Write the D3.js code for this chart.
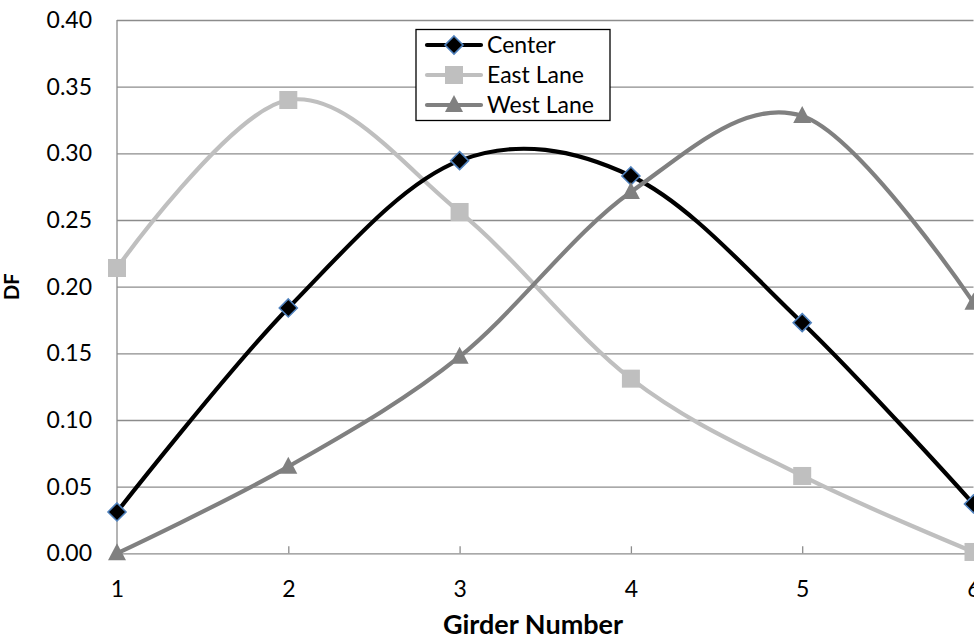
<!DOCTYPE html>
<html>
<head>
<meta charset="utf-8">
<script src="https://cdn.jsdelivr.net/npm/d3@7"></script>
<style>
  html, body { margin: 0; padding: 0; background: #fff; }
  svg { display: block; font-family: Lato, "Open Sans", sans-serif; }
</style>
</head>
<body>
<svg id="chart" width="974" height="639"></svg>
<script>
// Distribution factor per girder for three load positions
const girders = [1, 2, 3, 4, 5, 6];
const center = [0.031, 0.184, 0.2945, 0.283, 0.173, 0.037];
const eastLane = [0.214, 0.340, 0.256, 0.131, 0.058, 0.001];
const westLane = [0.000, 0.065, 0.1475, 0.271, 0.328, 0.188];
const yTicks = [0, 0.05, 0.10, 0.15, 0.20, 0.25, 0.30, 0.35, 0.40];

const series = [
  { name: "Center", values: center, color: "#000000", marker: "diamond" },
  { name: "East Lane", values: eastLane, color: "#bfbfbf", marker: "square" },
  { name: "West Lane", values: westLane, color: "#808080", marker: "triangle" }
];

const svg = d3.select("#chart");
const plot = { left: 117, right: 973.5, top: 20, bottom: 553.3 };

const x = d3.scaleLinear().domain([1, 6]).range([plot.left, plot.right]);
const y = d3.scaleLinear().domain([0, 0.4]).range([plot.bottom, plot.top]);

const gridColor = "#8c8c8c";
const labelSize = 23;

// horizontal gridlines + y labels
const yAxis = d3.axisLeft(y).tickValues(yTicks)
  .tickSize(-(plot.right - plot.left)).tickPadding(25)
  .tickFormat(d3.format(".2f"));
const gy = svg.append("g").attr("transform", `translate(${plot.left},0)`).call(yAxis);
gy.select(".domain").remove();
gy.selectAll(".tick line").attr("stroke", gridColor).attr("stroke-width", 1.3);
gy.selectAll(".tick text").attr("font-size", labelSize).attr("fill", "#000")
  .attr("font-family", "Lato, sans-serif");

// left axis line
svg.append("line")
  .attr("x1", plot.left).attr("x2", plot.left)
  .attr("y1", plot.top).attr("y2", plot.bottom)
  .attr("stroke", gridColor).attr("stroke-width", 1.3);

// x axis with short inward ticks
const xAxis = d3.axisBottom(x).tickValues(girders).tickSize(-7).tickPadding(27)
  .tickFormat(d3.format("d"));
const gx = svg.append("g").attr("transform", `translate(0,${plot.bottom})`).call(xAxis);
gx.select(".domain").remove();
gx.selectAll(".tick line").attr("stroke", gridColor).attr("stroke-width", 1.3);
gx.selectAll(".tick text").attr("font-size", labelSize).attr("fill", "#000")
  .attr("font-family", "Lato, sans-serif");

// axis titles
svg.append("text")
  .attr("x", 533).attr("y", 634)
  .attr("text-anchor", "middle").attr("font-weight", "bold")
  .attr("font-size", 27).text("Girder Number");
svg.append("text")
  .attr("transform", `translate(19,${(plot.top + plot.bottom) / 2}) rotate(-90)`)
  .attr("text-anchor", "middle").attr("font-weight", "bold")
  .attr("font-size", 20).text("DF");

// marker shapes
function drawMarker(g, type, cx, cy, color) {
  if (type === "diamond") {
    g.append("path")
      .attr("d", `M${cx},${cy - 9}L${cx + 9},${cy}L${cx},${cy + 9}L${cx - 9},${cy}Z`)
      .attr("fill", "#000").attr("stroke", "#4f81bd").attr("stroke-width", 1.6);
  } else if (type === "square") {
    g.append("rect")
      .attr("x", cx - 9).attr("y", cy - 9).attr("width", 18).attr("height", 18)
      .attr("fill", color);
  } else {
    g.append("path")
      .attr("d", `M${cx},${cy - 10}L${cx + 9},${cy + 7}L${cx - 9},${cy + 7}Z`)
      .attr("fill", color);
  }
}

const line = d3.line()
  .x((d, i) => x(girders[i]))
  .y(d => y(d))
  .curve(d3.curveCatmullRom.alpha(0));

// drawing order: East, Center, West
const drawOrder = [series[1], series[0], series[2]];
drawOrder.forEach(s => {
  const g = svg.append("g");
  g.append("path")
    .attr("d", line(s.values))
    .attr("fill", "none")
    .attr("stroke", s.color)
    .attr("stroke-width", 4.2)
    .attr("stroke-linecap", "round");
  s.values.forEach((v, i) => drawMarker(g, s.marker, x(girders[i]), y(v), s.color));
});

// legend
const lg = svg.append("g");
lg.append("rect")
  .attr("x", 416).attr("y", 29.5).attr("width", 194).attr("height", 91)
  .attr("fill", "#fff").attr("stroke", "#000").attr("stroke-width", 1.3);
series.forEach((s, i) => {
  const cy = 45 + i * 30;
  lg.append("line")
    .attr("x1", 427).attr("x2", 481).attr("y1", cy).attr("y2", cy)
    .attr("stroke", s.color).attr("stroke-width", 4.2).attr("stroke-linecap", "round");
  drawMarker(lg, s.marker, 454, cy, s.color);
  lg.append("text")
    .attr("x", 487).attr("y", cy).attr("dy", "0.36em")
    .attr("font-size", labelSize).attr("fill", "#000").text(s.name);
});
</script>
</body>
</html>
